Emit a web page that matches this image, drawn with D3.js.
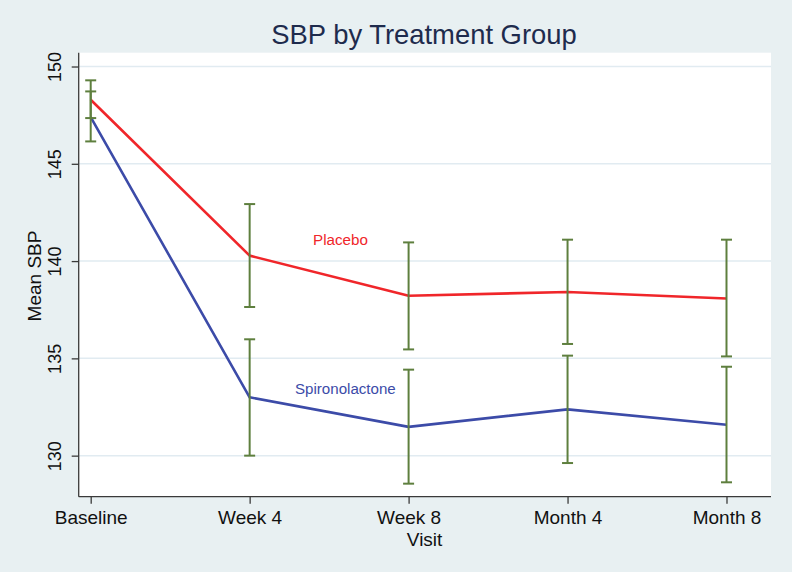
<!DOCTYPE html>
<html>
<head>
<meta charset="utf-8">
<script src="https://cdn.jsdelivr.net/npm/d3@7"></script>
<style>
  html, body { margin: 0; padding: 0; background: #e8f0f2; }
  svg { display: block; }
  text { font-family: "Liberation Sans", Arial, Helvetica, sans-serif; }
</style>
</head>
<body>
<svg id="chart" width="792" height="572"></svg>
<script>
// ---- data ----
const visits = ["Baseline", "Week 4", "Week 8", "Month 4", "Month 8"];
const placeboMean = [148.29, 140.28, 138.22, 138.41, 138.08];
const placeboLow  = [147.35, 137.64, 135.46, 135.74, 135.10];
const placeboHigh = [149.29, 142.93, 140.96, 141.10, 141.10];
const spiroMean = [147.40, 133.0, 131.48, 132.38, 131.59];
const spiroLow  = [146.15, 130.0, 128.56, 129.62, 128.63];
const spiroHigh = [148.72, 135.98, 134.42, 135.14, 134.57];
const yTicks = [130, 135, 140, 145, 150];
const seriesNames = ["Placebo", "Spironolactone"];

// ---- layout ----
const W = 792, H = 572;
const plot = { left: 78.7, right: 771, top: 52.7, bottom: 496.7 };
const svg = d3.select("#chart");

svg.append("rect").attr("width", W).attr("height", H).attr("fill", "#e8f0f2");
svg.append("rect")
  .attr("x", plot.left).attr("y", plot.top)
  .attr("width", plot.right - plot.left).attr("height", plot.bottom - plot.top)
  .attr("fill", "#ffffff");

const x = d3.scaleLinear().domain([-0.0755, 4.28]).range([plot.left, plot.right]);
const y = d3.scaleLinear().domain([127.89, 150.71]).range([plot.bottom, plot.top]);

// gridlines
svg.append("g").selectAll("line").data(yTicks).join("line")
  .attr("x1", plot.left).attr("x2", plot.right)
  .attr("y1", d => y(d)).attr("y2", d => y(d))
  .attr("stroke", "#e1ebf1").attr("stroke-width", 1.5);

// y axis
const yAxis = svg.append("g").attr("transform", `translate(${plot.left},0)`)
  .call(d3.axisLeft(y).tickValues(yTicks).tickSize(7).tickPadding(6).tickFormat(d3.format("d")));
yAxis.select(".domain").attr("d", `M0,${plot.top}V${plot.bottom}`).attr("stroke", "#3a3a3a").attr("stroke-width", 1.3);
yAxis.selectAll(".tick line").attr("stroke", "#3a3a3a").attr("stroke-width", 1.3);
yAxis.selectAll(".tick text")
  .attr("font-size", 18).attr("fill", "#111")
  .attr("text-anchor", "middle").attr("dy", null).attr("x", null)
  .attr("transform", "translate(-23.5,0) rotate(-90)")
  .attr("dominant-baseline", "central");

// x axis
const xAxis = svg.append("g").attr("transform", `translate(0,${plot.bottom})`)
  .call(d3.axisBottom(x).tickValues(d3.range(visits.length)).tickSize(7).tickPadding(6)
    .tickFormat(i => visits[i]));
xAxis.select(".domain").attr("d", `M${plot.left},0H${plot.right}`).attr("stroke", "#3a3a3a").attr("stroke-width", 1.3);
xAxis.selectAll(".tick line").attr("stroke", "#3a3a3a").attr("stroke-width", 1.3);
xAxis.selectAll(".tick text").attr("font-size", 19).attr("fill", "#111").attr("dy", null).attr("y", 27.5);

// axis titles
svg.append("text").attr("x", x(2) + 16).attr("y", 546)
  .attr("text-anchor", "middle").attr("font-size", 19).attr("fill", "#111").text("Visit");
svg.append("text").attr("transform", `translate(41,276) rotate(-90)`)
  .attr("text-anchor", "middle").attr("font-size", 19).attr("fill", "#111").text("Mean SBP");

// title
svg.append("text").attr("x", 424).attr("y", 44)
  .attr("text-anchor", "middle").attr("font-size", 27.4).attr("fill", "#1e2b4d")
  .text("SBP by Treatment Group");

// lines
const line = d3.line().x((d, i) => x(i)).y(d => y(d));
svg.append("path").datum(placeboMean).attr("d", line)
  .attr("fill", "none").attr("stroke", "#f0262a").attr("stroke-width", 2.6).attr("stroke-linejoin", "round");
svg.append("path").datum(spiroMean).attr("d", line)
  .attr("fill", "none").attr("stroke", "#3c4ba8").attr("stroke-width", 2.6).attr("stroke-linejoin", "round");

// error bars
const errColor = "#5e7f3e";
function drawErr(low, high) {
  const g = svg.append("g").attr("stroke", errColor).attr("stroke-width", 2).attr("fill", "none");
  visits.forEach((v, i) => {
    g.append("line").attr("x1", x(i)).attr("x2", x(i)).attr("y1", y(low[i])).attr("y2", y(high[i]));
    g.append("line").attr("x1", x(i) - 5.5).attr("x2", x(i) + 5.5).attr("y1", y(low[i])).attr("y2", y(low[i]));
    g.append("line").attr("x1", x(i) - 5.5).attr("x2", x(i) + 5.5).attr("y1", y(high[i])).attr("y2", y(high[i]));
  });
}
drawErr(placeboLow, placeboHigh);
drawErr(spiroLow, spiroHigh);

// series labels
svg.append("text").attr("x", 313).attr("y", 244.5).attr("font-size", 15.2)
  .attr("fill", "#f0262a").text(seriesNames[0]);
svg.append("text").attr("x", 295).attr("y", 393.5).attr("font-size", 15.1)
  .attr("fill", "#3c4ba8").text(seriesNames[1]);
</script>
</body>
</html>
